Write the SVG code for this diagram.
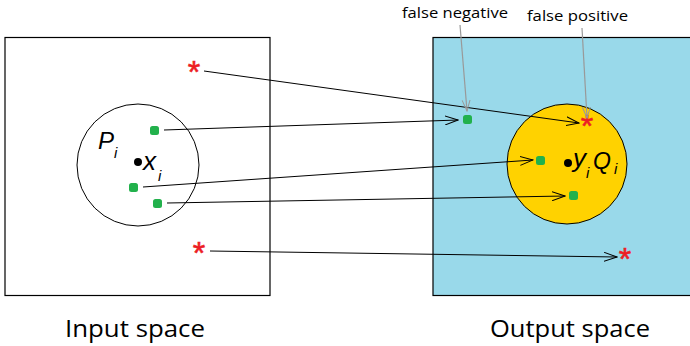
<svg xmlns="http://www.w3.org/2000/svg" width="690" height="346" viewBox="0 0 690 346">
<defs>
<marker id="ah" markerWidth="14" markerHeight="10" refX="13" refY="5" orient="auto" markerUnits="userSpaceOnUse">
<path d="M0,0.5 L13,5 L0,9.5" fill="none" stroke="#000" stroke-width="1"/>
</marker>
<marker id="gh" markerWidth="12" markerHeight="10" refX="11" refY="5" orient="auto" markerUnits="userSpaceOnUse">
<path d="M0,1 L11,5 L0,9" fill="none" stroke="#999" stroke-width="1"/>
</marker>
</defs>
<style>
.box{stroke:#000;stroke-width:1.2}
.g{fill:#22b14c}
.k{fill:#000}
.st{font-family:"Liberation Sans",Arial,sans-serif;font-size:32px;fill:#ed1c24;stroke:#ed1c24;stroke-width:0.6}
.lab{font-family:"Open Sans","Liberation Sans",sans-serif;fill:#000}
.math{font-family:"Liberation Sans",Arial,sans-serif;font-style:italic;fill:#000}
.c{stroke:#000;stroke-width:1;fill:none;marker-end:url(#ah)}
.p{stroke:#999;stroke-width:1.2;fill:none;marker-end:url(#gh)}
</style>
<rect width="690" height="346" fill="#fff"/>
<g id="input-space">
<rect class="box" x="5" y="37.5" width="265" height="258" fill="#fff"/>
<circle cx="138" cy="165" r="61" fill="#fff" stroke="#000" stroke-width="1"/>
<text class="lab" x="65" y="337" font-size="24" textLength="140" lengthAdjust="spacingAndGlyphs">Input space</text>
</g>
<g id="output-space">
<rect class="box" x="433" y="37.5" width="262" height="258" fill="#99d9ea"/>
<circle cx="567" cy="164" r="60" fill="#ffd200" stroke="#000" stroke-width="1"/>
<text class="lab" x="490" y="337" font-size="24" textLength="160" lengthAdjust="spacingAndGlyphs">Output space</text>
</g>
<g id="Pi"><text class="math" x="98" y="149" font-size="24">P</text><text class="math" x="114" y="158" font-size="15">i</text></g>
<g id="xi"><circle class="k" cx="138" cy="162" r="4"/><text class="math" x="143" y="170" font-size="26">x</text><text class="math" x="158" y="181" font-size="15">i</text></g>
<g id="yi"><circle class="k" cx="568" cy="163" r="4"/><text class="math" x="573" y="167" font-size="26">y</text><text class="math" x="586" y="178" font-size="15">i</text></g>
<g id="Qi"><text class="math" x="593" y="169" font-size="23">Q</text><text class="math" x="614" y="174" font-size="15">i</text></g>
<g id="points">
<rect class="g" x="150" y="126" width="9" height="9" rx="2.5"/>
<rect class="g" x="129" y="183" width="9" height="9" rx="2.5"/>
<rect class="g" x="153" y="199" width="9" height="9" rx="2.5"/>
<rect class="g" x="463" y="115" width="9" height="9" rx="2.5"/>
<rect class="g" x="536" y="156" width="9" height="9" rx="2.5"/>
<rect class="g" x="569" y="191" width="9" height="9" rx="2.5"/>
<text class="st" x="194" y="83" text-anchor="middle">*</text>
<text class="st" x="199" y="264" text-anchor="middle">*</text>
<text class="st" x="587" y="137" text-anchor="middle">*</text>
<text class="st" x="625" y="270" text-anchor="middle">*</text>
</g>
<g id="connectors">
<line class="c" x1="204" y1="71" x2="579" y2="123"/>
<line class="c" x1="164" y1="130" x2="458" y2="120"/>
<line class="c" x1="143" y1="187" x2="533" y2="160"/>
<line class="c" x1="167" y1="203" x2="565" y2="196"/>
<line class="c" x1="210" y1="251" x2="617" y2="257"/>
<line class="p" x1="460" y1="25" x2="467" y2="111"/>
<line class="p" x1="582" y1="28" x2="587" y2="118"/>
</g>
<g id="annotations">
<text class="lab" x="402" y="18" font-size="15" textLength="106" lengthAdjust="spacingAndGlyphs">false negative</text>
<text class="lab" x="527" y="21" font-size="15" textLength="101" lengthAdjust="spacingAndGlyphs">false positive</text>
</g>
</svg>
